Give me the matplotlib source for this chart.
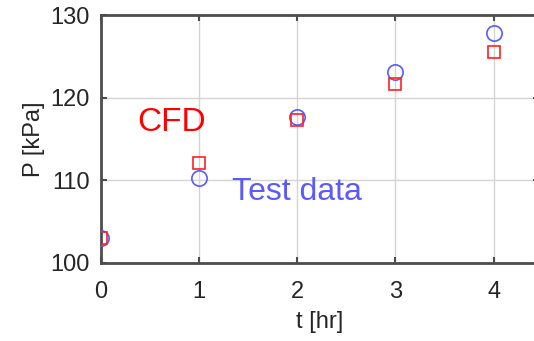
import matplotlib
matplotlib.use('Agg')
import matplotlib.pyplot as plt

# time [hr] and pressure [kPa]
t = [0, 1, 2, 3, 4]
p_test = [103.0, 110.3, 117.7, 123.1, 127.8]
p_cfd = [103.0, 112.1, 117.3, 121.6, 125.5]

plt.rcParams['font.family'] = ['Liberation Sans', 'DejaVu Sans']

fig = plt.figure(figsize=(5.34, 3.41), dpi=100)
ax = fig.add_axes([0.189, 0.229, 0.82, 0.727])

ax.plot(t, p_test, 'o', ms=11, mfc='none', mec='#5a5aff', mew=1.2, zorder=3)
ax.plot(t, p_cfd, 's', ms=9, mfc='none', mec='#ff2020', mew=1.2, zorder=4)

ax.text(0.37, 117.0, 'CFD', color='#ff0000', fontsize=24, va='center')
ax.text(1.33, 108.6, 'Test data', color='#5a5aff', fontsize=23, va='center')

ax.set_xlim(0, 4.46)
ax.set_ylim(100, 130)
ax.set_xticks(t)
ax.set_yticks([100, 110, 120, 130])
ax.grid(True, color='#d4d4d4', lw=1)
ax.set_axisbelow(True)
for s in ax.spines.values():
    s.set_color('#4d4d4d')
    s.set_linewidth(2)
ax.tick_params(direction='in', top=True, right=True, length=4, width=1.5,
               colors='#4d4d4d', labelcolor='#262626', labelsize=17)
ax.tick_params(axis='x', pad=13)
ax.tick_params(axis='y', pad=8)
ax.set_xlabel('t [hr]', fontsize=17, color='#262626', labelpad=6)
ax.set_ylabel('P [kPa]', fontsize=17, color='#262626', labelpad=4)

fig.savefig('out.png', dpi=100)
